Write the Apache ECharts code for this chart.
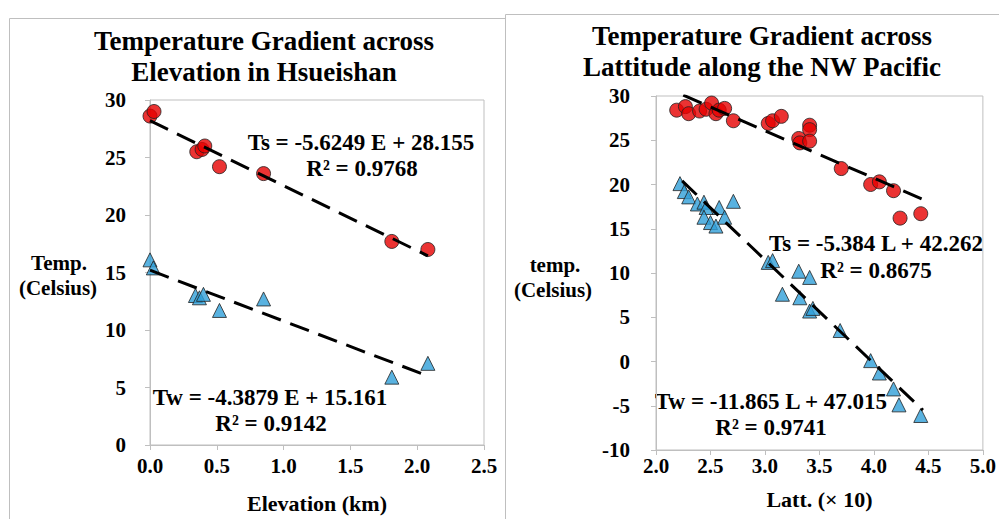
<!DOCTYPE html>
<html>
<head>
<meta charset="utf-8">
<script src="https://cdn.jsdelivr.net/npm/echarts@6/dist/echarts.min.js"></script>
<style>
  html, body { margin: 0; padding: 0; background: #fff; }
  #main { width: 999px; height: 519px; }
</style>
</head>
<body>
<div id="main"></div>
<script>
// ---- 左图：海拔 (Hsueishan) ----
const elevTsX = [0.00, 0.03, 0.35, 0.39, 0.41, 0.52, 0.85, 1.81, 2.08]
const elevTsY = [28.6, 29.0, 25.5, 25.7, 26.0, 24.2, 23.6, 17.7, 17.0]
const elevTwX = [0.00, 0.025, 0.34, 0.37, 0.40, 0.52, 0.85, 1.81, 2.08]
const elevTwY = [16.1, 15.4, 13.0, 12.8, 13.1, 11.7, 12.7, 5.9, 7.1]
// 趋势线两端
const elevTsTrend = [[0.00, 28.2], [2.08, 16.45]]
const elevTwTrend = [[0.00, 15.2], [2.08, 6.0]]

// ---- 右图：纬度 (NW Pacific) ----
const latTsX = [2.19, 2.27, 2.30, 2.40, 2.46, 2.51, 2.55, 2.58, 2.63, 2.71, 3.03, 3.07, 3.15,
  3.31, 3.32, 3.41, 3.41, 3.41, 3.70, 3.97, 4.05, 4.18, 4.24, 4.43]
const latTsY = [28.4, 28.8, 28.0, 28.3, 28.5, 29.2, 28.0, 28.4, 28.6, 27.2, 26.9, 27.2, 27.7,
  25.2, 24.7, 26.7, 26.2, 24.9, 21.8, 20.0, 20.3, 19.3, 16.2, 16.7]
const latTwX = [2.22, 2.26, 2.30, 2.38, 2.44, 2.46, 2.44, 2.50, 2.55, 2.58, 2.63, 2.71, 3.03, 3.07,
  3.31, 3.41, 3.16, 3.32, 3.41, 3.44, 3.69, 3.97, 4.05, 4.18, 4.23, 4.43]
const latTwY = [20.1, 19.2, 18.6, 17.8, 18.0, 17.4, 16.3, 15.7, 15.3, 17.4, 16.3, 18.1, 11.2, 11.4,
  10.2, 9.5, 7.6, 7.2, 5.7, 6.0, 3.5, 0.1, -1.3, -3.1, -4.9, -6.1]
const latTsTrend = [[2.25, 30.1], [4.45, 18.3]]
const latTwTrend = [[2.24, 20.4], [4.45, -5.5]]

const FONT = 'Liberation Serif'
const RED = '#e60000'
const BLUE = '#2f9fd8'

function zip (xs, ys) {
  return xs.map((x, i) => [x, ys[i]])
}

function axisBase (min, max, interval, decimals) {
  return {
    type: 'value',
    min: min,
    max: max,
    interval: interval,
    splitLine: { show: false },
    axisLine: { show: true, onZero: false, lineStyle: { color: '#bfbfbf', width: 1 } },
    axisTick: { show: true, length: 5, lineStyle: { color: '#bfbfbf' } },
    axisLabel: {
      color: '#000',
      fontFamily: FONT,
      fontWeight: 'bold',
      fontSize: 21,
      formatter: v => decimals ? v.toFixed(decimals) : String(v)
    }
  }
}

function scatter (data, symbol, color, size, xi) {
  return {
    type: 'scatter',
    xAxisIndex: xi,
    yAxisIndex: xi,
    symbol: symbol,
    symbolSize: size,
    data: data,
    z: 3,
    itemStyle: { color: color, borderColor: '#222', borderWidth: 1 }
  }
}

function trend (data, xi) {
  return {
    type: 'line',
    xAxisIndex: xi,
    yAxisIndex: xi,
    data: data,
    symbol: 'none',
    clip: true,
    z: 4,
    lineStyle: { color: '#000', width: 3, type: [20, 10] }
  }
}

function txt (x, y, s, size, align) {
  return {
    type: 'text',
    x: x,
    y: y,
    style: {
      text: s,
      fill: '#000',
      fontFamily: FONT,
      fontWeight: 'bold',
      fontSize: size,
      textAlign: align || 'center',
      textVerticalAlign: 'middle'
    }
  }
}

const chart = echarts.init(document.getElementById('main'), null, { renderer: 'svg' })

const nameStyle = { color: '#000', fontFamily: FONT, fontWeight: 'bold', fontSize: 22 }

const xl = axisBase(0, 2.5, 0.5, 1)
xl.axisLabel.margin = 10
xl.name = 'Elevation (km)'
xl.nameLocation = 'middle'
xl.nameGap = 47
xl.nameTextStyle = nameStyle

const xr = axisBase(2, 5, 0.5, 1)
xr.axisLabel.margin = 5
xr.name = 'Latt. (× 10)'
xr.nameLocation = 'middle'
xr.nameGap = 38
xr.nameTextStyle = nameStyle

const yl = axisBase(0, 30, 5, 0)
yl.axisLabel.margin = 24
const yr = axisBase(-10, 30, 5, 0)
yr.axisLabel.margin = 26

const titleStyle = { fontFamily: FONT, fontWeight: 'bold', fontSize: 27, lineHeight: 31, color: '#000' }

chart.setOption({
  backgroundColor: '#fff',
  animation: false,
  title: [
    { text: 'Temperature Gradient across\nElevation in Hsueishan', left: 259, top: 20, textAlign: 'center', textStyle: titleStyle },
    { text: 'Temperature Gradient across\nLattitude along the NW Pacific', left: 757, top: 15, textAlign: 'center', textStyle: titleStyle }
  ],
  grid: [
    { left: 150, top: 100, width: 334, height: 352, show: true, borderColor: '#bfbfbf', borderWidth: 1, backgroundColor: 'transparent' },
    { left: 656, top: 96, width: 328, height: 354, show: true, borderColor: '#bfbfbf', borderWidth: 1, backgroundColor: 'transparent' }
  ],
  xAxis: [Object.assign(xl, { gridIndex: 0 }), Object.assign(xr, { gridIndex: 1 })],
  yAxis: [Object.assign(yl, { gridIndex: 0 }), Object.assign(yr, { gridIndex: 1 })],
  graphic: [
    // 两个面板的边框
    { type: 'rect', z: -10, shape: { x: 9.5, y: 18.5, width: 700, height: 600 }, style: { fill: '#fff', stroke: '#bfbfbf', lineWidth: 1 } },
    { type: 'rect', z: -9, shape: { x: 505.5, y: 14.5, width: 600, height: 600 }, style: { fill: '#fff', stroke: '#bfbfbf', lineWidth: 1 } },
    txt(59, 263, 'Temp.', 21),
    txt(58, 288, '(Celsius)', 21),
    txt(555, 265, 'temp.', 21),
    txt(553, 290, '(Celsius)', 21),
    txt(361, 142, 'Ts = -5.6249 E + 28.155', 23),
    txt(362, 168, 'R² = 0.9768', 23),
    txt(270, 397, 'Tw = -4.3879 E + 15.161', 23),
    txt(271, 423, 'R² = 0.9142', 23),
    txt(876, 243, 'Ts = -5.384 L + 42.262', 23),
    txt(876, 270, 'R² = 0.8675', 23),
    txt(771, 401, 'Tw = -11.865 L + 47.015', 23),
    txt(771, 427, 'R² = 0.9741', 23)
  ],
  series: [
    trend(elevTsTrend, 0),
    trend(elevTwTrend, 0),
    scatter(zip(elevTsX, elevTsY), 'circle', RED, 14, 0),
    scatter(zip(elevTwX, elevTwY), 'triangle', BLUE, 14, 0),
    trend(latTsTrend, 1),
    trend(latTwTrend, 1),
    scatter(zip(latTsX, latTsY), 'circle', RED, 14, 1),
    scatter(zip(latTwX, latTwY), 'triangle', BLUE, 14, 1)
  ]
})
</script>
</body>
</html>
